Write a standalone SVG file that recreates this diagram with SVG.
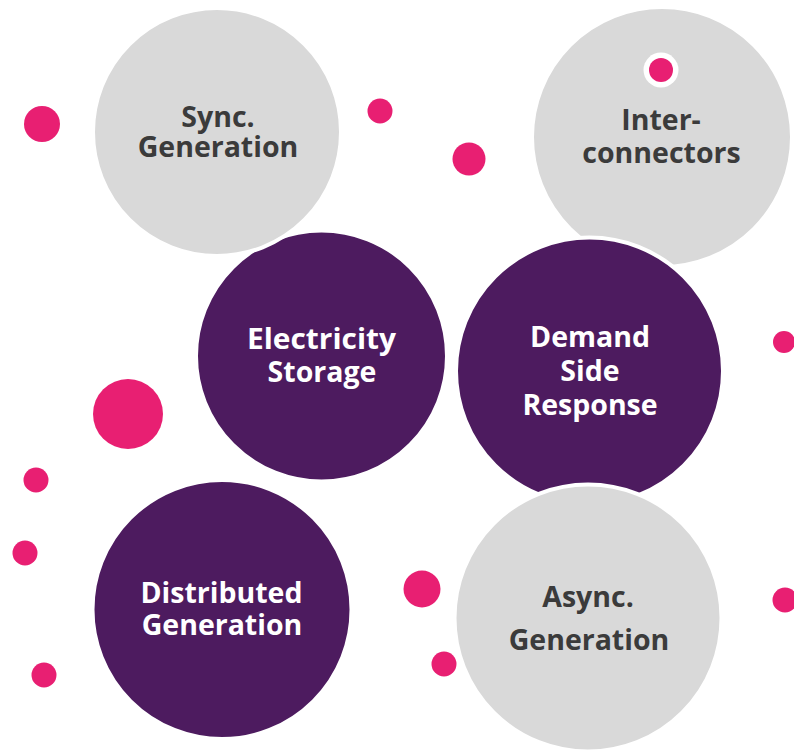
<svg xmlns="http://www.w3.org/2000/svg" width="794" height="752" viewBox="0 0 794 752">
  <style>
    .grey { fill: #D9D9D9; stroke: #FFFFFF; stroke-width: 4; }
    .purple { fill: #4D1B5F; stroke: #FFFFFF; stroke-width: 4; }
    .dot { fill: #E81F72; }
    .lbl { font-family: "Open Sans", "Liberation Sans", sans-serif; font-weight: 700; font-size: 28.5px; text-anchor: middle; }
    .dark { fill: #3B3B3B; }
    .light { fill: #FFFFFF; }
  </style>
  <rect width="794" height="752" fill="#FFFFFF"/>

  <g id="dots">
    <circle class="dot" cx="42" cy="124" r="18"/>
    <circle class="dot" cx="380" cy="111" r="12.5"/>
    <circle class="dot" cx="469" cy="159" r="16.5"/>
    <circle class="dot" cx="784" cy="342" r="11"/>
    <circle class="dot" cx="128" cy="414" r="35"/>
    <circle class="dot" cx="36" cy="480" r="12.5"/>
    <circle class="dot" cx="25" cy="553" r="12.5"/>
    <circle class="dot" cx="44" cy="675" r="12.5"/>
    <circle class="dot" cx="422" cy="589" r="18.5"/>
    <circle class="dot" cx="444" cy="664" r="12.5"/>
    <circle class="dot" cx="785" cy="600" r="12.5"/>
  </g>

  <g id="storage">
    <circle class="purple" cx="321.5" cy="356" r="125.5"/>
    <text class="lbl light" x="321.5" y="349" textLength="149" lengthAdjust="spacingAndGlyphs">Electricity</text>
    <text class="lbl light" x="322" y="382">Storage</text>
  </g>

  <g id="sync">
    <circle class="grey" cx="217" cy="132" r="124"/>
    <text class="lbl dark" x="218" y="127">Sync.</text>
    <text class="lbl dark" x="218" y="157">Generation</text>
  </g>

  <g id="interconnectors">
    <circle class="grey" cx="662" cy="137" r="130"/>
    <circle cx="661" cy="70" r="17.5" fill="#FFFFFF"/>
    <circle class="dot" cx="661" cy="70" r="12"/>
    <text class="lbl dark" x="661" y="130">Inter-</text>
    <text class="lbl dark" x="661.5" y="163">connectors</text>
  </g>

  <g id="dsr">
    <circle class="purple" cx="589.5" cy="371" r="133.5"/>
    <text class="lbl light" x="590" y="347">Demand</text>
    <text class="lbl light" x="590" y="381">Side</text>
    <text class="lbl light" x="590" y="415">Response</text>
  </g>

  <g id="async">
    <circle class="grey" cx="588" cy="618" r="133.5"/>
    <text class="lbl dark" x="588" y="607">Async.</text>
    <text class="lbl dark" x="589" y="650">Generation</text>
  </g>

  <g id="distributed">
    <circle class="purple" cx="222" cy="609.5" r="129.5"/>
    <text class="lbl light" x="221.5" y="603">Distributed</text>
    <text class="lbl light" x="222" y="635">Generation</text>
  </g>

  <g id="connectors"></g>
</svg>
